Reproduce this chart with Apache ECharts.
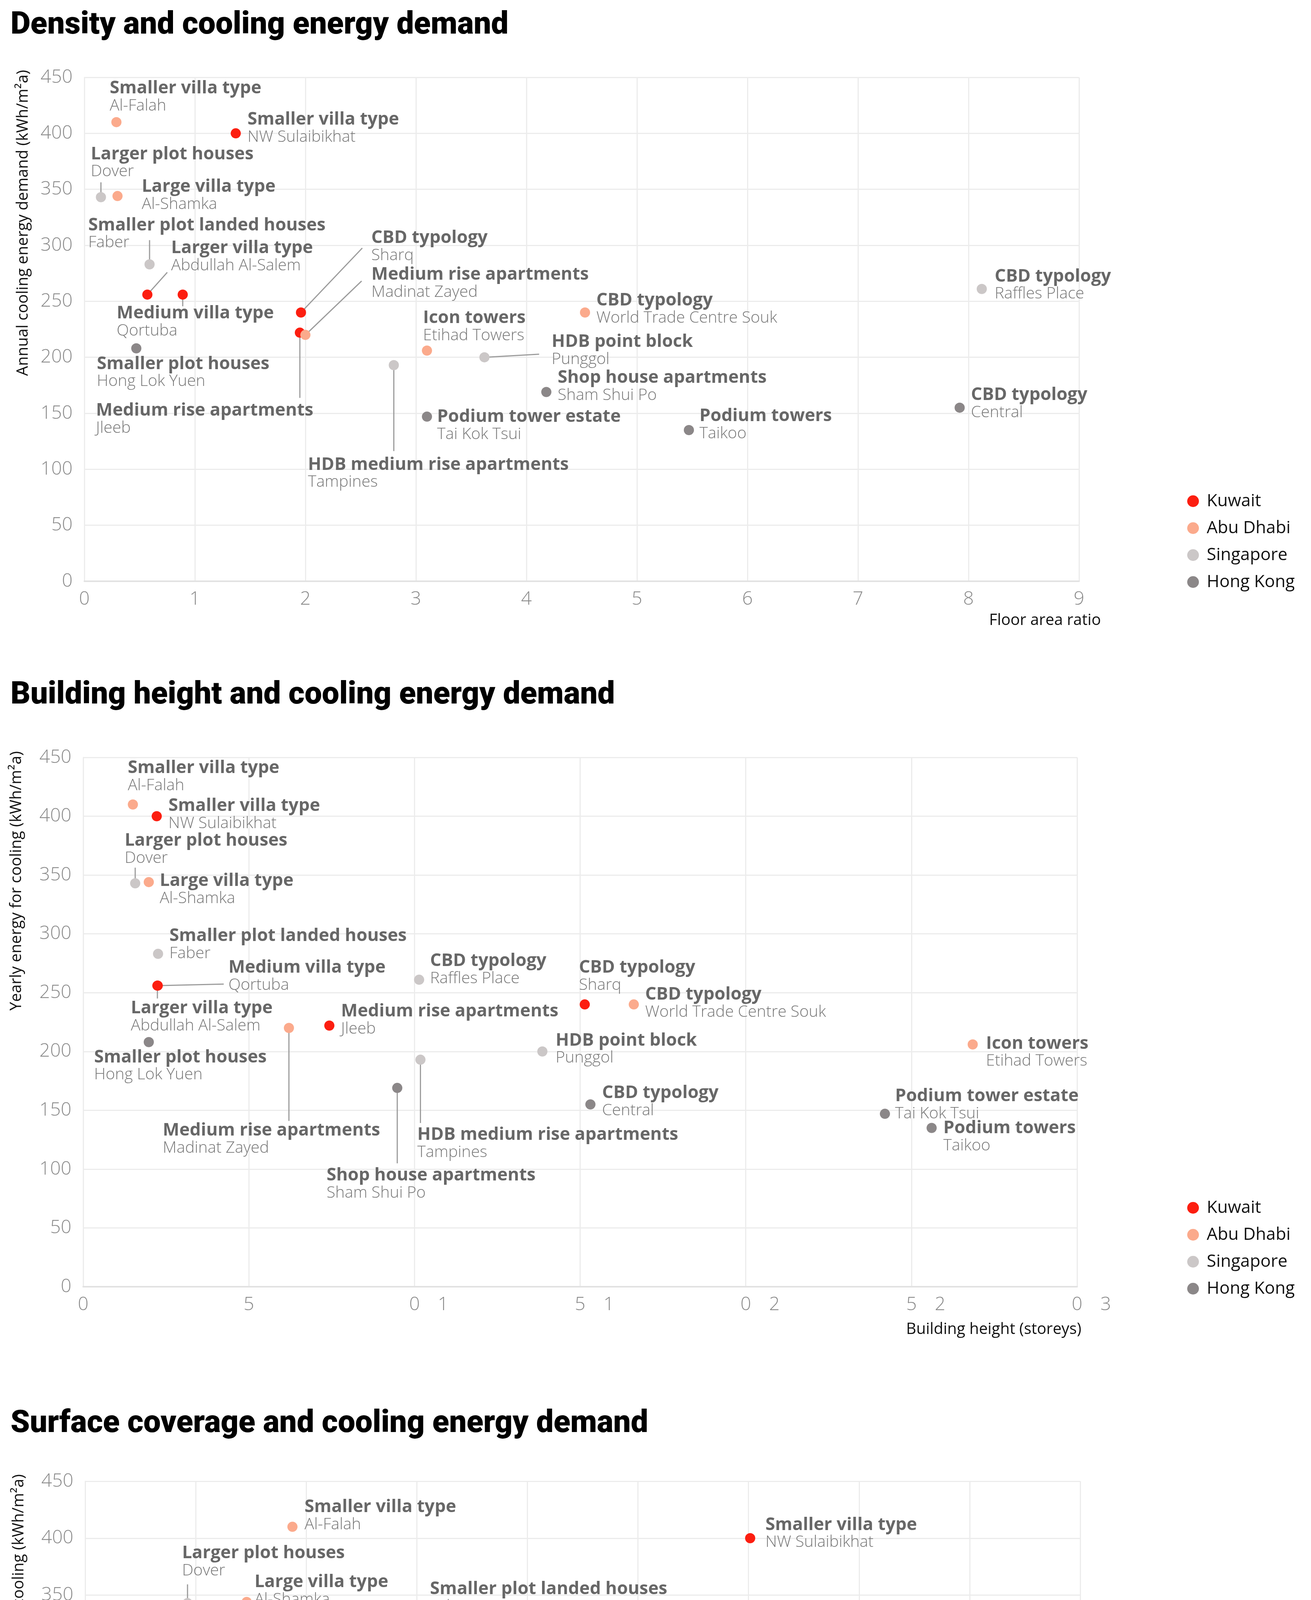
<!DOCTYPE html>
<html><head><meta charset="utf-8">
<script src="https://cdn.jsdelivr.net/npm/echarts@6/dist/echarts.min.js"></script>
<style>html,body{margin:0;padding:0;background:#fff;}#main{width:3357px;height:5266px;}</style>
</head><body><div id="main"></div>
<script>
// ---------------- DATA ----------------
const typologies = ['Smaller villa type','Smaller villa type','Larger plot houses','Large villa type','Smaller plot landed houses','Larger villa type','Medium villa type','CBD typology','Medium rise apartments','Medium rise apartments','Smaller plot houses','HDB medium rise apartments','Icon towers','HDB point block','Shop house apartments','Podium tower estate','CBD typology','CBD typology','CBD typology','Podium towers'];
const places = ['Al-Falah','NW Sulaibikhat','Dover','Al-Shamka','Faber','Abdullah Al-Salem','Qortuba','Sharq','Jleeb','Madinat Zayed','Hong Lok Yuen','Tampines','Etihad Towers','Punggol','Sham Shui Po','Tai Kok Tsui','World Trade Centre Souk','Raffles Place','Central','Taikoo'];
const countries = ['Abu Dhabi','Kuwait','Singapore','Abu Dhabi','Singapore','Kuwait','Kuwait','Kuwait','Kuwait','Abu Dhabi','Hong Kong','Singapore','Abu Dhabi','Singapore','Hong Kong','Hong Kong','Abu Dhabi','Singapore','Hong Kong','Hong Kong'];
const countryNames = ['Kuwait','Abu Dhabi','Singapore','Hong Kong'];
const coolingDemand = [410,400,343,344,283,256,256,240,222,220,208,193,206,200,169,147,240,261,155,135];
const floorAreaRatio = [0.29,1.37,0.15,0.30,0.59,0.57,0.89,1.96,1.95,2.00,0.47,2.80,3.10,3.62,4.18,3.10,4.53,8.12,7.92,5.47];
const buildingHeight = [1.50,2.22,1.57,1.98,2.26,2.24,2.25,15.14,7.43,6.21,1.98,10.18,26.85,13.86,9.48,24.2,16.62,10.14,15.31,25.61];
const surfaceCoverage = [18.75,60.15,9.26,14.61,25.36,25.02,38.64,13.0,26.51,32.36,22.95,26.93,11.63,25.59,44.34,12.78,27.31,80.0,51.72,21.23];
const chartTitles = ['Density and cooling energy demand','Building height and cooling energy demand','Surface coverage and cooling energy demand'];
const xAxisNames = ['Floor area ratio','Building height (storeys)','Surface coverage (%)'];
const yAxisNames = ['Annual cooling energy demand (kWh/m\u00b2a)','Yearly energy for cooling (kWh/m\u00b2a)','Yearly energy for cooling (kWh/m\u00b2a)'];

// ---------------- STYLE / LAYOUT ----------------
const colors = {'Kuwait':'#fc1e10','Abu Dhabi':'#fbaa8c','Singapore':'#cbc7c7','Hong Kong':'#8b8788'};
const FONT = '"Open Sans", "Noto Sans", sans-serif';
const S = 26;
// label offsets: [dx, dy of title-line centre, align]
const labelPos = [
 [[-17,-86],[30,-35],[-26,-110],[62,-24],[-157,-100],[61,-119],[-169,48],[180,-191],[-522,200],[169,-154],[-101,40],[-220,255],[-10,-83],[172,-39],[29,-36],[26,1],[29,-31],[33,-32],[29,-32],[27,-36]],
 [[-13,-93],[30,-26],[-27,-109],[28,-3],[29,-46],[-68,58],[181,-46],[-15,-94],[30,-36],[-323,263],[-140,39],[-8,192],[34,-2],[34,-28],[-181,224],[26,-45],[29,-25],[28,-48],[30,-29],[30,1]],
 [[31,-50],[39,-34],[-14,-128],[20,-51],[165,-211],[175,-197],[317,-25],[-123,-74],[-149,-211,'r'],[37,-37],[-450,46],[188,166],[-312,-94],[-287,112],[-8,-92],[-315,105],[110,-140],[31,-40],[24,-38],[-20,106]]
];
const leaders = [
 {2:[0,-38],4:[0,-62],5:[51,-57],6:[0,30],7:[157,-165],8:[0,167],9:[144,-138],11:[0,220],13:[140,-8]},
 {2:[0,-40],5:[0,33],6:[169,-4],9:[0,238],11:[0,162],14:[0,193]},
 {2:[0,-48],4:[149,-153],5:[161,-161],6:[290,0],7:[0,-34],8:[-149,-155],11:[172,158],12:[-27,-24],13:[0,88],15:[0,74],16:[96,-98],19:[0,79]}
];
const layouts = [
 {grid:{left:216,top:198,width:2547,height:1290}, titleTop:27, xMax:9, xInt:1, xs:floorAreaRatio, legendTop:1261, xNameGap:56, xNamePad:81, yNameGap:19, yNamePad:136},
 {grid:{left:213,top:1939,width:2545,height:1355}, titleTop:1742, xMax:30, xInt:5, xs:buildingHeight, legendTop:3070, xNameGap:11, xNamePad:90, yNameGap:16, yNamePad:150, oddLabels:true},
 {grid:{left:218,top:3792,width:2548,height:1312}, titleTop:3607, xMax:90, xInt:10, xs:surfaceCoverage, legendTop:4877, xNameGap:16, xNamePad:103, yNameGap:18, yNamePad:149}
];

const rich = {
  t:{fontFamily:FONT, fontSize:45, fontWeight:'bold', color:'#676767', lineHeight:46},
  s:{fontFamily:FONT, fontSize:41, fontWeight:300, color:'#777777', lineHeight:44}
};
const tickStyle = {fontFamily:FONT, fontSize:48, fontWeight:300, color:'#8a8a8a'};

const option = {animation:false, backgroundColor:'#fff', title:[], grid:[], xAxis:[], yAxis:[], legend:[], series:[]};

layouts.forEach((L, ci) => {
  option.title.push({text:chartTitles[ci], left:27, top:L.titleTop, padding:0,
    textStyle:{fontFamily:'Roboto, Inter, "Open Sans", sans-serif', fontWeight:900, fontSize:79, color:'#000'}});
  option.grid.push(Object.assign({containLabel:false}, L.grid));
  const xLabel = Object.assign({margin:22}, tickStyle);
  if (L.oddLabels) {
    xLabel.formatter = function(v){
      const s = String(v);
      if (s.length < 2) return '{d|' + s + '}';
      return '{h|' + s[0] + '}{g|}{d|' + s[1] + '}{g|}{d|' + s[0] + '}';
    };
    xLabel.rich = {
      d:Object.assign({}, tickStyle),
      h:Object.assign({}, tickStyle, {color:'rgba(0,0,0,0)'}),
      g:{width:46}
    };
  }
  option.xAxis.push({type:'value', gridIndex:ci, min:0, max:L.xMax, interval:L.xInt,
    name:xAxisNames[ci], nameLocation:'end', nameGap:L.xNameGap, nameMoveOverlap:false,
    nameTextStyle:{fontFamily:FONT, fontSize:40, color:'#111', align:'right', verticalAlign:'top', padding:[L.xNamePad,0,0,0]},
    axisLine:{show:true, lineStyle:{color:'#e2e2e2', width:4}}, axisTick:{show:false},
    splitLine:{show:true, lineStyle:{color:'#ececec', width:3}}, axisLabel:xLabel});
  option.yAxis.push({type:'value', gridIndex:ci, min:0, max:450, interval:50,
    name:yAxisNames[ci], nameLocation:'end', nameRotate:90, nameGap:L.yNameGap, nameMoveOverlap:false,
    nameTextStyle:{fontFamily:FONT, fontSize:40, color:'#111', align:'right', verticalAlign:'bottom', padding:[0,0,L.yNamePad,0]},
    axisLine:{show:true, lineStyle:{color:'#ececec', width:3}}, axisTick:{show:false},
    splitLine:{show:true, lineStyle:{color:'#ececec', width:3}},
    axisLabel:Object.assign({margin:30}, tickStyle)});
  option.legend.push({data:countryNames, orient:'vertical', left:3040, top:L.legendTop, padding:0,
    icon:'circle', itemWidth:30, itemHeight:30, itemGap:25, selectedMode:false,
    textStyle:{fontFamily:FONT, fontSize:44, color:'#111', padding:[0,0,0,15]}});

  // leader lines
  const lead = leaders[ci];
  const leadData = Object.keys(lead).map(k => [L.xs[+k], coolingDemand[+k], +k]);
  option.series.push({type:'custom', xAxisIndex:ci, yAxisIndex:ci, silent:true, z:1,
    encode:{x:0, y:1}, data:leadData,
    renderItem:function(params, api){
      const off = lead[api.value(2)];
      const p = api.coord([api.value(0), api.value(1)]);
      return {type:'line', shape:{x1:p[0], y1:p[1], x2:p[0]+off[0], y2:p[1]+off[1]},
        style:{stroke:'#9c9c9c', lineWidth:3}};
    }});

  countryNames.forEach(c => {
    const data = [];
    countries.forEach((cc, i) => {
      if (cc !== c) return;
      const lp = labelPos[ci][i];
      data.push({value:[L.xs[i], coolingDemand[i], i],
        label:{position:[lp[0] + S/2, lp[1] - 23 + S/2], align: lp[2] === 'r' ? 'right' : 'left', verticalAlign:'top'}});
    });
    option.series.push({type:'scatter', name:c, xAxisIndex:ci, yAxisIndex:ci, z:3,
      symbol:'circle', symbolSize:S, itemStyle:{color:colors[c], opacity:1},
      emphasis:{disabled:true}, data:data,
      label:{show:true, formatter:function(p){ const i = p.data.value[2]; return '{t|' + typologies[i] + '}\n{s|' + places[i] + '}'; }, rich:rich}});
  });
});

const chart = echarts.init(document.getElementById('main'), null, {renderer:'canvas'});
chart.setOption(option);
</script></body></html>
